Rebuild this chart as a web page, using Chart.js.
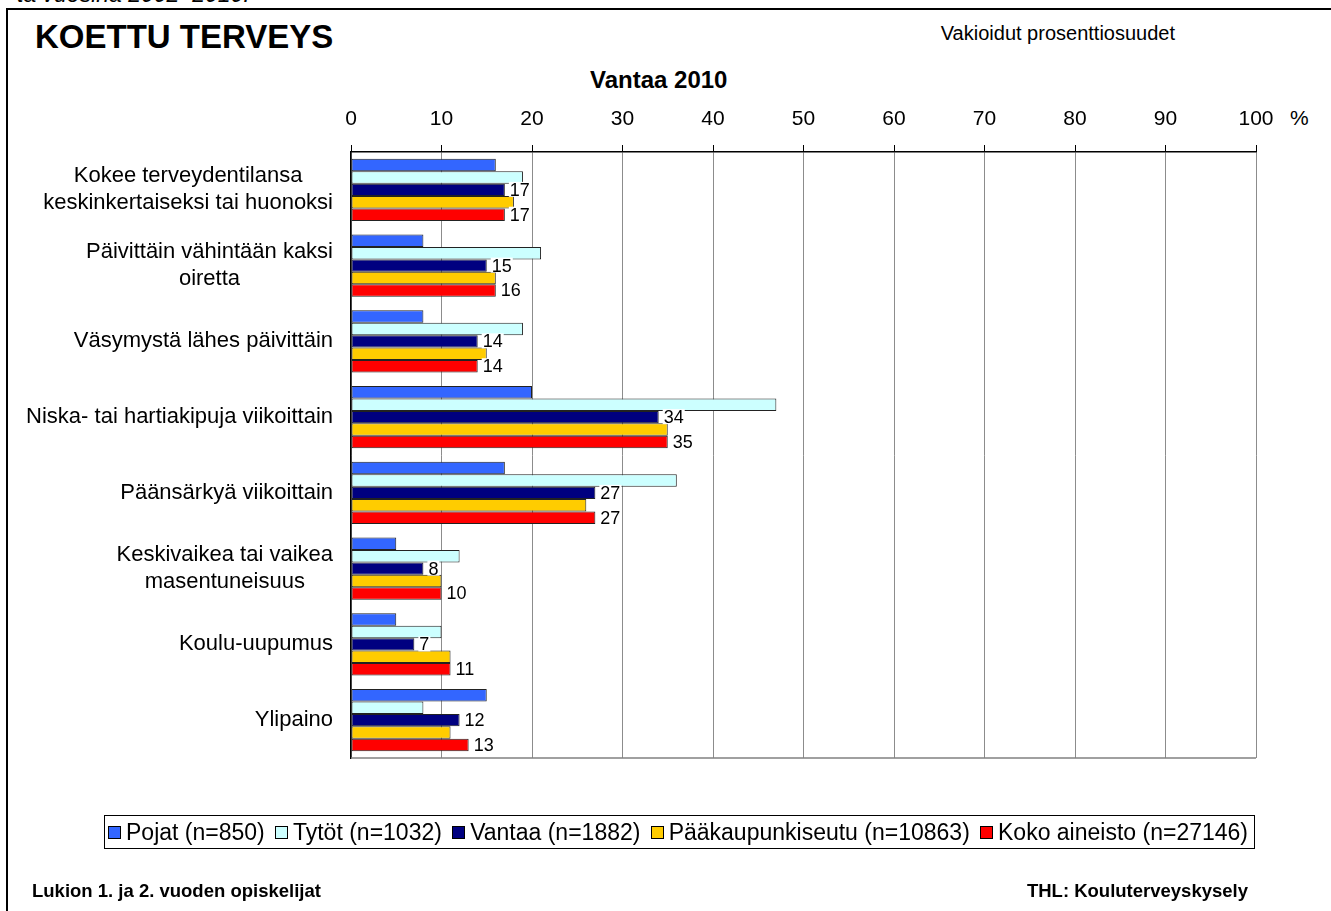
<!DOCTYPE html>
<html lang="fi">
<head>
    <meta charset="UTF-8">
    <title>Koettu terveys - Vantaa 2010</title>
    <style>
        body { margin: 0; background: #fff; font-family: 'Liberation Sans', Arial, sans-serif; }
        .page { position: relative; width: 1331px; height: 911px; overflow: hidden; }
        .frame { position: absolute; left: 6px; top: 8px; width: 1400px; height: 1000px;
                 border-left: 2px solid #000; border-top: 2px solid #000; }
        .txt { position: absolute; line-height: 1; white-space: nowrap; color: #000; }
        canvas { position: absolute; left: 0; top: 0; }
        .legend { position: absolute; left: 104px; top: 815px; width: 1151px; height: 34px;
                  border: 1px solid #000; display: flex; align-items: center;
                  justify-content: space-between; padding: 0 6px 0 3px; box-sizing: border-box;
                  font-size: 23px; white-space: nowrap; }
        .legend span.sw { display: inline-block; width: 11px; height: 11px; border: 1px solid #000;
                          margin-right: 5px; vertical-align: 1px; }
    </style>
</head>
<body>
<div class="page">
    <div class="frame"></div>
    <div class="txt" style="left:17px; top:-17px; font-size:23px; font-style:italic;">ta vuosina 2002–2010.</div>
    <div class="txt" style="left:35px; top:20px; font-size:33px; font-weight:bold;">KOETTU TERVEYS</div>
    <div class="txt" style="right:156px; top:23px; font-size:20px;">Vakioidut prosenttiosuudet</div>
    <div class="txt" style="left:590px; top:68px; font-size:24px; font-weight:bold;">Vantaa 2010</div>
    <div class="txt" style="left:1290px; top:107px; font-size:21px;">%</div>
    <canvas id="chart" width="1331" height="911"></canvas>
    <div class="legend" id="legend"></div>
    <div class="txt" style="left:32px; top:882px; font-size:18.5px; font-weight:bold;">Lukion 1. ja 2. vuoden opiskelijat</div>
    <div class="txt" style="right:83px; top:882px; font-size:18.5px; font-weight:bold;">THL: Kouluterveyskysely</div>
</div>

<script src="https://cdn.jsdelivr.net/npm/chart.js"></script>
<script>
    // categories (line breaks as in the original)
    const categories = [
        ['Kokee terveydentilansa', 'keskinkertaiseksi tai huonoksi'],
        ['Päivittäin vähintään kaksi', 'oiretta'],
        ['Väsymystä lähes päivittäin'],
        ['Niska- tai hartiakipuja viikoittain'],
        ['Päänsärkyä viikoittain'],
        ['Keskivaikea tai vaikea', 'masentuneisuus'],
        ['Koulu-uupumus'],
        ['Ylipaino']
    ];

    const seriesNames = ['Pojat (n=850)', 'Tytöt (n=1032)', 'Vantaa (n=1882)', 'Pääkaupunkiseutu (n=10863)', 'Koko aineisto (n=27146)'];
    const seriesColors = ['#3366FF', '#CCFFFF', '#000080', '#FFCC00', '#FF0000'];

    const pojat   = [16, 8, 8, 20, 17, 5, 5, 15];
    const tytot   = [19, 21, 19, 47, 36, 12, 10, 8];
    const vantaa  = [17, 15, 14, 34, 27, 8, 7, 12];
    const paakaup = [18, 16, 15, 35, 26, 10, 11, 11];
    const koko    = [17, 16, 14, 35, 27, 10, 11, 13];

    const xTicks = [0, 10, 20, 30, 40, 50, 60, 70, 80, 90, 100];
    const labelledSeries = [2, 4]; // Vantaa and Koko aineisto get value labels

    const FONT = "'Liberation Sans', Arial, sans-serif";

    // y labels: centred lines, block right-aligned against the axis
    const yLabelPlugin = {
        id: 'yLabels',
        afterDraw(chart) {
            const ctx = chart.ctx;
            const y = chart.scales.y;
            ctx.save();
            ctx.font = '22px ' + FONT;
            ctx.fillStyle = '#000';
            ctx.textAlign = 'center';
            ctx.textBaseline = 'middle';
            const lh = 27;
            categories.forEach((lines, i) => {
                const cy = y.getPixelForTick(i);
                const w = Math.max(...lines.map(l => ctx.measureText(l).width));
                const cx = 333 - w / 2;
                const top = cy - (lines.length - 1) * lh / 2;
                lines.forEach((l, j) => ctx.fillText(l, cx, top + j * lh));
            });
            ctx.restore();
        }
    };

    // value labels at bar end, white background
    const valueLabelPlugin = {
        id: 'valueLabels',
        afterDatasetsDraw(chart) {
            const ctx = chart.ctx;
            ctx.save();
            ctx.font = '18px ' + FONT;
            ctx.textBaseline = 'middle';
            labelledSeries.forEach(di => {
                const meta = chart.getDatasetMeta(di);
                meta.data.forEach((bar, i) => {
                    const txt = String(chart.data.datasets[di].data[i]);
                    const w = ctx.measureText(txt).width;
                    const x = bar.x + 5;
                    ctx.fillStyle = '#fff';
                    ctx.fillRect(x - 1, bar.y - 8, w + 2, 15);
                    ctx.fillStyle = '#000';
                    ctx.fillText(txt, x, bar.y + 1);
                });
            });
            ctx.restore();
        }
    };

    // gray bottom border of the plot area
    const framePlugin = {
        id: 'plotFrame',
        afterDraw(chart) {
            const a = chart.chartArea;
            const ctx = chart.ctx;
            ctx.save();
            ctx.strokeStyle = '#808080';
            ctx.lineWidth = 1.5;
            ctx.beginPath();
            ctx.moveTo(a.left, a.bottom);
            ctx.lineTo(a.right, a.bottom);
            ctx.stroke();
            ctx.restore();
        }
    };

    const datasetsData = [pojat, tytot, vantaa, paakaup, koko];

    new Chart(document.getElementById('chart'), {
        type: 'bar',
        data: {
            labels: categories,
            datasets: datasetsData.map((d, i) => ({
                label: seriesNames[i],
                data: d,
                backgroundColor: seriesColors[i],
                borderColor: '#222',
                borderWidth: 1,
                borderSkipped: false,
                categoryPercentage: 0.82,
                barPercentage: 1.0
            }))
        },
        options: {
            indexAxis: 'y',
            responsive: false,
            animation: false,
            devicePixelRatio: 1,
            layout: { padding: { left: 0, top: 90, right: 75, bottom: 153 } },
            plugins: {
                legend: { display: false },
                tooltip: { enabled: false }
            },
            scales: {
                x: {
                    position: 'top',
                    min: 0,
                    max: 100,
                    afterBuildTicks: s => { s.ticks = xTicks.map(v => ({ value: v })); },
                    afterFit: s => { s.height = 62; },
                    ticks: {
                        color: '#000',
                        font: { family: FONT, size: 21 },
                        padding: 13,
                        maxRotation: 0
                    },
                    grid: {
                        color: '#8c8c8c',
                        lineWidth: 1,
                        tickColor: '#000',
                        tickLength: 7
                    },
                    border: { color: '#000', width: 1.5 }
                },
                y: {
                    afterFit: s => { s.width = 351; },
                    ticks: { display: false },
                    grid: { display: false },
                    border: { color: '#000', width: 1.5 }
                }
            }
        },
        plugins: [yLabelPlugin, valueLabelPlugin, framePlugin]
    });

    // legend built from the same arrays
    const legend = document.getElementById('legend');
    seriesNames.forEach((name, i) => {
        const item = document.createElement('div');
        item.innerHTML = '<span class="sw" style="background:' + seriesColors[i] + '"></span>' + name;
        legend.appendChild(item);
    });
</script>
</body>
</html>
